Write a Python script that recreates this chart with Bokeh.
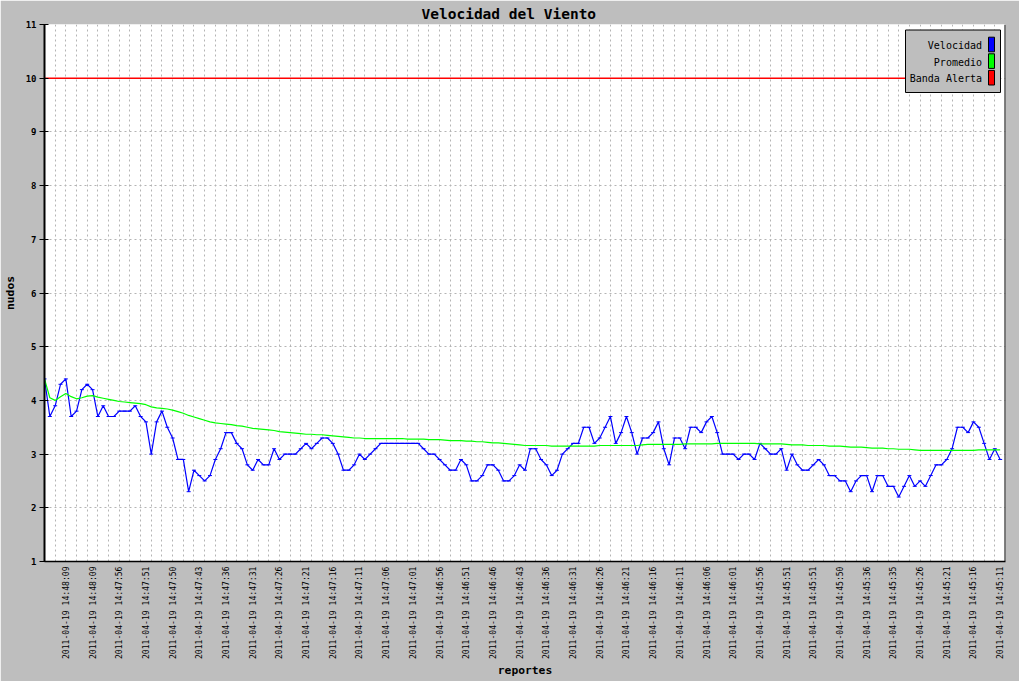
import math
from bokeh.plotting import figure
from bokeh.models import Range1d, FixedTicker, Label, Span
from bokeh.embed import file_html
from bokeh.resources import INLINE

# ---------------- data ----------------
velocidad = [
    4.4, 3.7, 3.9, 4.3, 4.4, 3.7, 3.8, 4.2, 4.3, 4.2,
    3.7, 3.9, 3.7, 3.7, 3.8, 3.8, 3.8, 3.9, 3.7, 3.6,
    3.0, 3.6, 3.8, 3.5, 3.3, 2.9, 2.9, 2.3, 2.7, 2.6,
    2.5, 2.6, 2.9, 3.1, 3.4, 3.4, 3.2, 3.1, 2.8, 2.7,
    2.9, 2.8, 2.8, 3.1, 2.9, 3.0, 3.0, 3.0, 3.1, 3.2,
    3.1, 3.2, 3.3, 3.3, 3.2, 3.0, 2.7, 2.7, 2.8, 3.0,
    2.9, 3.0, 3.1, 3.2, 3.2, 3.2, 3.2, 3.2, 3.2, 3.2,
    3.2, 3.1, 3.0, 3.0, 2.9, 2.8, 2.7, 2.7, 2.9, 2.8,
    2.5, 2.5, 2.6, 2.8, 2.8, 2.7, 2.5, 2.5, 2.6, 2.8,
    2.7, 3.1, 3.1, 2.9, 2.8, 2.6, 2.7, 3.0, 3.1, 3.2,
    3.2, 3.5, 3.5, 3.2, 3.3, 3.5, 3.7, 3.2, 3.4, 3.7,
    3.4, 3.0, 3.3, 3.3, 3.4, 3.6, 3.1, 2.8, 3.3, 3.3,
    3.1, 3.5, 3.5, 3.4, 3.6, 3.7, 3.4, 3.0, 3.0, 3.0,
    2.9, 3.0, 3.0, 2.9, 3.2, 3.1, 3.0, 3.0, 3.1, 2.7,
    3.0, 2.8, 2.7, 2.7, 2.8, 2.9, 2.8, 2.6, 2.6, 2.5,
    2.5, 2.3, 2.5, 2.6, 2.6, 2.3, 2.6, 2.6, 2.4, 2.4,
    2.2, 2.4, 2.6, 2.4, 2.5, 2.4, 2.6, 2.8, 2.8, 2.9,
    3.1, 3.5, 3.5, 3.4, 3.6, 3.5, 3.2, 2.9, 3.1, 2.9,
]

promedio = [
    4.40, 4.05, 4.00, 4.07, 4.13, 4.07, 4.03, 4.05, 4.08, 4.09,
    4.06, 4.04, 4.02, 4.00, 3.98, 3.97, 3.96, 3.95, 3.94, 3.92,
    3.88, 3.86, 3.85, 3.84, 3.82, 3.79, 3.76, 3.72, 3.69, 3.66,
    3.63, 3.60, 3.58, 3.57, 3.56, 3.55, 3.53, 3.52, 3.50, 3.48,
    3.47, 3.46, 3.45, 3.44, 3.42, 3.41, 3.40, 3.39, 3.38, 3.37,
    3.37, 3.36, 3.36, 3.35, 3.34, 3.33, 3.32, 3.31, 3.30, 3.30,
    3.29, 3.29, 3.29, 3.29, 3.29, 3.29, 3.29, 3.29, 3.28, 3.28,
    3.28, 3.28, 3.27, 3.27, 3.27, 3.26, 3.25, 3.25, 3.25, 3.24,
    3.24, 3.23, 3.23, 3.22, 3.21, 3.21, 3.20, 3.19, 3.18, 3.17,
    3.16, 3.16, 3.16, 3.16, 3.16, 3.15, 3.15, 3.15, 3.15, 3.15,
    3.15, 3.15, 3.15, 3.15, 3.16, 3.16, 3.16, 3.16, 3.16, 3.16,
    3.16, 3.16, 3.17, 3.18, 3.18, 3.18, 3.18, 3.18, 3.18, 3.18,
    3.19, 3.19, 3.19, 3.19, 3.19, 3.19, 3.20, 3.20, 3.20, 3.20,
    3.20, 3.20, 3.20, 3.20, 3.19, 3.19, 3.19, 3.19, 3.19, 3.18,
    3.17, 3.17, 3.17, 3.16, 3.16, 3.16, 3.16, 3.15, 3.15, 3.15,
    3.14, 3.13, 3.13, 3.13, 3.12, 3.11, 3.11, 3.11, 3.10, 3.10,
    3.09, 3.09, 3.09, 3.08, 3.07, 3.07, 3.07, 3.07, 3.07, 3.07,
    3.07, 3.07, 3.07, 3.07, 3.07, 3.08, 3.08, 3.08, 3.08, 3.08,
]

banda_alerta = 10.0

tick_labels = [
    "2011-04-19 14:48:09", "2011-04-19 14:48:09", "2011-04-19 14:47:56",
    "2011-04-19 14:47:51", "2011-04-19 14:47:50", "2011-04-19 14:47:43",
    "2011-04-19 14:47:36", "2011-04-19 14:47:31", "2011-04-19 14:47:26",
    "2011-04-19 14:47:21", "2011-04-19 14:47:16", "2011-04-19 14:47:11",
    "2011-04-19 14:47:06", "2011-04-19 14:47:01", "2011-04-19 14:46:56",
    "2011-04-19 14:46:51", "2011-04-19 14:46:46", "2011-04-19 14:46:43",
    "2011-04-19 14:46:36", "2011-04-19 14:46:31", "2011-04-19 14:46:26",
    "2011-04-19 14:46:21", "2011-04-19 14:46:16", "2011-04-19 14:46:11",
    "2011-04-19 14:46:06", "2011-04-19 14:46:01", "2011-04-19 14:45:56",
    "2011-04-19 14:45:51", "2011-04-19 14:45:51", "2011-04-19 14:45:50",
    "2011-04-19 14:45:36", "2011-04-19 14:45:35", "2011-04-19 14:45:26",
    "2011-04-19 14:45:21", "2011-04-19 14:45:16", "2011-04-19 14:45:11",
]

series_names = ["Velocidad", "Promedio", "Banda Alerta"]
series_colors = ["#0000ff", "#00ff00", "#ff0000"]

# ---------------- layout ----------------
W, H = 1019, 681
FL, FR, FT, FB = 44, 1005, 24, 561   # frame edges in canvas px
N = len(velocidad)
idx = list(range(N))
XMAX = 180
YMIN, YMAX = 1, 11

MONO = "DejaVu Sans Mono"
BG = "#bebebe"

p = figure(width=W, height=H, output_backend="svg", toolbar_location=None,
           x_range=Range1d(0, XMAX), y_range=Range1d(YMIN, YMAX),
           min_border_left=FL, min_border_right=W - FR,
           min_border_top=FT, min_border_bottom=H - FB)
p.border_fill_color = BG
p.background_fill_color = "white"
p.outline_line_color = None

p.title.text = "Velocidad del Viento"
p.title.align = "left"
p.title.text_font = MONO
p.title.text_font_size = "14.5px"
p.title.text_font_style = "bold"
p.title.text_color = "black"
p.title.standoff = 5
p.title.offset = 377

# x axis
tick_idx = list(range(4, N, 5))
p.xaxis.ticker = FixedTicker(ticks=tick_idx)
p.xaxis.major_label_overrides = {i: s for i, s in zip(tick_idx, tick_labels)}
p.xaxis.major_label_orientation = math.pi / 2
p.xaxis.major_label_text_font = MONO
p.xaxis.major_label_text_font_size = "8.1px"
p.xaxis.major_label_text_color = "black"
p.xaxis.major_label_standoff = 5
p.xaxis.major_tick_out = 0
p.xaxis.major_tick_in = 0
p.xaxis.minor_tick_out = 0
p.xaxis.minor_tick_in = 0
p.xaxis.axis_line_color = "black"
p.xaxis.axis_line_width = 1.5
p.xaxis.axis_label = "reportes"
p.xaxis.axis_label_text_font = MONO
p.xaxis.axis_label_text_font_size = "11.3px"
p.xaxis.axis_label_text_font_style = "bold"
p.xaxis.axis_label_text_color = "black"
p.xaxis.axis_label_standoff = 2

# y axis
p.yaxis.ticker = FixedTicker(ticks=list(range(YMIN, YMAX + 1)))
p.yaxis.major_label_text_font = MONO
p.yaxis.major_label_text_font_size = "9px"
p.yaxis.major_label_text_font_style = "bold"
p.yaxis.major_label_text_color = "black"
p.yaxis.major_label_standoff = 3
p.yaxis.major_tick_out = 5
p.yaxis.major_tick_in = 4
p.yaxis.major_tick_line_color = "black"
p.yaxis.minor_tick_out = 0
p.yaxis.minor_tick_in = 0
p.yaxis.axis_line_color = "black"
p.yaxis.axis_line_width = 2
p.yaxis.axis_label = "nudos"
p.yaxis.axis_label_text_font = MONO
p.yaxis.axis_label_text_font_size = "11.3px"
p.yaxis.axis_label_text_font_style = "bold"
p.yaxis.axis_label_text_color = "black"
p.yaxis.axis_label_standoff = 6

# grids
p.xgrid.ticker = FixedTicker(ticks=list(range(0, XMAX + 1, 2)))
p.ygrid.ticker = FixedTicker(ticks=list(range(YMIN, YMAX + 1)))
for g in (p.xgrid, p.ygrid):
    g.grid_line_color = "#b4b4b4"
    g.grid_line_dash = "2 3"
    g.grid_line_width = 1

# right border of the frame
p.add_layout(Span(location=XMAX, dimension="height", line_color="black", line_width=2))

# series
p.line(idx, velocidad, line_color=series_colors[0], line_width=1.2)
p.scatter(idx, velocidad, marker="dash", size=4, line_color=series_colors[0], line_width=1)
p.line(idx, promedio, line_color=series_colors[1], line_width=1.2)
p.line(idx, [banda_alerta] * N, line_color=series_colors[2], line_width=1.5)

# ---------------- custom legend (label left, swatch right), drawn over the lines ----------------
def dx(cx):
    return (cx - FL) / (FR - FL) * XMAX

def dy(cy):
    return YMAX - (cy - FT) / (FB - FT) * (YMAX - YMIN)

p.quad(left=[dx(905)], right=[dx(1000)], top=[dy(29.5)], bottom=[dy(92)],
       fill_color=BG, fill_alpha=1, line_color="black", line_width=1)
row_centers = [44, 60.6, 77.2]
p.quad(left=[dx(988)] * 3, right=[dx(994)] * 3,
       top=[dy(c - 7.3) for c in row_centers], bottom=[dy(c + 7.3) for c in row_centers],
       fill_color=series_colors, fill_alpha=1, line_color="black", line_width=1)
for name, cy in zip(series_names, row_centers):
    p.add_layout(Label(x=dx(981.5), y=dy(cy + 1), text=name, text_align="right",
                       text_baseline="middle", text_font=MONO, text_font_size="10px",
                       text_color="black"))

open("out.html", "w").write(file_html(p, INLINE))
